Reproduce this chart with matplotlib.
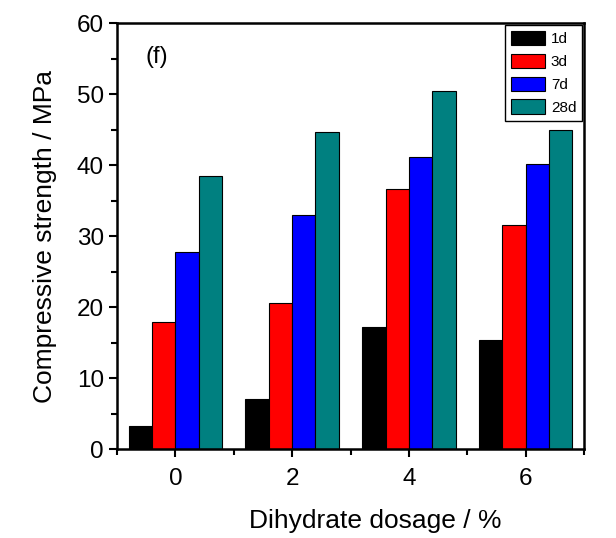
import matplotlib
matplotlib.use("Agg")
import matplotlib.pyplot as plt
import numpy as np
from matplotlib.ticker import MultipleLocator

plt.rcParams["font.family"] = ["Liberation Sans", "DejaVu Sans"]

dosages = [0, 2, 4, 6]
ages = ["1d", "3d", "7d", "28d"]
s_1d = [3.2, 7.0, 17.2, 15.4]
s_3d = [17.9, 20.6, 36.6, 31.6]
s_7d = [27.8, 33.0, 41.2, 40.1]
s_28d = [38.5, 44.6, 50.4, 45.0]
colors = ["#000000", "#ff0000", "#0000ff", "#008080"]

fig = plt.figure(figsize=(6.16, 5.38), dpi=100)
ax = fig.add_axes([0.190, 0.1654, 0.758, 0.7918])

x = np.array(dosages, dtype=float)
width = 0.4
offsets = [-0.6, -0.2, 0.2, 0.6]
for series, label, color, off in zip([s_1d, s_3d, s_7d, s_28d], ages, colors, offsets):
    ax.bar(x + off, series, width, color=color, edgecolor="black", linewidth=0.8, label=label)

ax.set_xlim(-1, 7)
ax.set_ylim(0, 60)
ax.set_xticks(dosages)
ax.xaxis.set_minor_locator(MultipleLocator(1))
ax.yaxis.set_major_locator(MultipleLocator(10))
ax.yaxis.set_minor_locator(MultipleLocator(5))
ax.tick_params(axis="both", which="major", direction="out", length=6, width=1.5, labelsize=17.5)
ax.tick_params(axis="both", which="minor", direction="out", length=4, width=1.5)
ax.tick_params(axis="x", pad=8)
for sp in ax.spines.values():
    sp.set_linewidth(1.8)

ax.set_xlabel("Dihydrate dosage / %", fontsize=19, labelpad=12)
ax.xaxis.set_label_coords(0.552, -0.14)
ax.set_ylabel("Compressive strength / MPa", fontsize=19, labelpad=14)
ax.text(0.06, 0.92, "(f)", transform=ax.transAxes, fontsize=17, va="center")

leg = ax.legend(loc="upper right", fontsize=11, handlelength=2.2, handleheight=1.05,
                fancybox=False, edgecolor="black", framealpha=1, borderaxespad=0.1,
                labelspacing=0.5, handletextpad=0.4, borderpad=0.4)
leg.get_frame().set_linewidth(1.0)

fig.savefig("out.png", dpi=100)
